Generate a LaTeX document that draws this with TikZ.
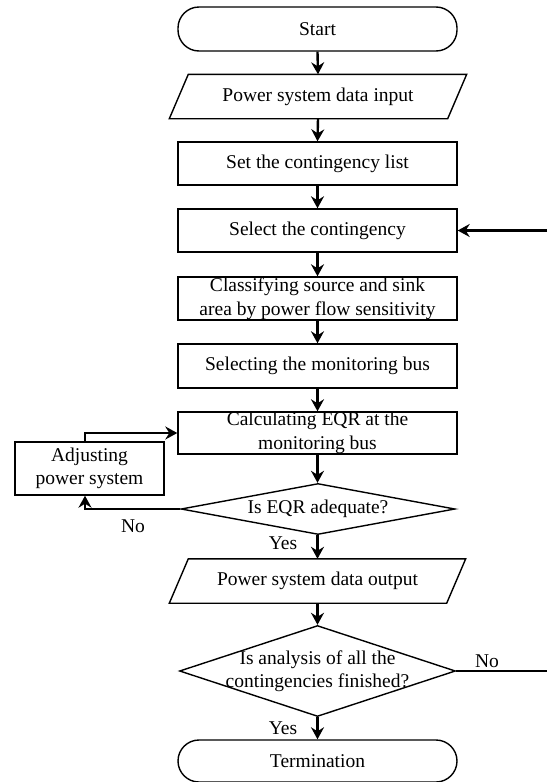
\documentclass[tikz,border=0pt]{standalone}
\usepackage{fontspec}
\setmainfont{Liberation Serif}
\usetikzlibrary{shapes.geometric,arrows.meta}
\newcommand\myfs{\fontsize{19.5}{23.5}\selectfont}
\begin{document}
\begin{tikzpicture}[x=1pt,y=-1pt,
  box/.style={draw,line width=1.4pt,minimum width=279pt,minimum height=43pt,inner sep=0pt,align=center,font=\myfs},
  termbox/.style={box,rounded corners=21pt,minimum height=44pt},
  iobox/.style={rectangle,minimum width=278pt,minimum height=44pt,inner sep=0pt,align=center,font=\myfs},
  decbox/.style={draw,diamond,line width=1.4pt,inner sep=0pt,aspect=5},
  txt/.style={inner sep=0pt,align=center,font=\myfs},
  arr/.style={line width=2.4pt,-{Stealth[length=12pt,width=13pt,inset=4pt]}},
  plain/.style={line width=2.4pt},
  edge/.style={line width=1.4pt,line join=miter}
]
\useasboundingbox (0,0) rectangle (547,782);

\node[termbox] (start) at (317.5,29) {Start};
\node[iobox] (in) at (318,96.5) {Power system data input};
\draw[edge] ([xshift=-9.5pt]in.south west) -- ([xshift=9.5pt]in.north west) -- ([xshift=9.5pt]in.north east) -- ([xshift=-9.5pt]in.south east) -- cycle;
\node[box] (set) at (317.5,163.5) {Set the contingency list};
\node[box] (sel) at (317.5,230.5) {Select the contingency};
\node[box] (cls) at (317.5,298.5) {Classifying source and sink\\area by power flow sensitivity};
\node[box,minimum height=44pt] (bus) at (317.5,366) {Selecting the monitoring bus};
\node[box,minimum height=42pt] (calc) at (317.5,433) {Calculating EQR at the\\monitoring bus};
\node[box,minimum width=149pt,minimum height=53pt] (adj) at (89.5,468.5) {Adjusting\\power system};

\node[decbox,minimum width=274pt,minimum height=51pt] (d1) at (318,509) {};
\node[txt] (d1t) at (318,509) {Is EQR adequate?};

\node[iobox,minimum width=277pt] (out) at (317.5,581) {Power system data output};
\draw[edge] ([xshift=-9.5pt]out.south west) -- ([xshift=9.5pt]out.north west) -- ([xshift=9.5pt]out.north east) -- ([xshift=-9.5pt]out.south east) -- cycle;

\node[decbox,minimum width=276pt,minimum height=91pt] (d2) at (317.5,671) {};
\node[txt] (d2t) at (317.5,671) {Is analysis of all the\\contingencies finished?};

\node[termbox,minimum height=42pt] (term) at (317.5,761) {Termination};

\node[txt] (no1) at (133,526) {No};
\node[txt] (yes1) at (283,543) {Yes};
\node[txt] (no2) at (487,661) {No};
\node[txt] (yes2) at (283,728) {Yes};

\coordinate (rin) at (547,230.5);
\coordinate (rout) at (547,671);

\draw[arr] (start.south) -- (in.north);
\draw[arr] (in.south) -- (set.north);
\draw[arr] (set.south) -- (sel.north);
\draw[arr] (sel.south) -- (cls.north);
\draw[arr] (cls.south) -- (bus.north);
\draw[arr] (bus.south) -- (calc.north);
\draw[arr] (calc.south) -- (calc.south |- d1.north);
\draw[arr] (d1.south -| out.north) -- (out.north);
\draw[arr] (out.south) -- (d2.north);
\draw[arr] (d2.south) -- (term.north);

\draw[arr] (d1.west) -| ([xshift=-4.5pt]adj.south);
\draw[arr] ([xshift=-4.5pt]adj.north) |- (calc.west);
\draw[arr] (rin) -- (sel.east);
\draw[plain] (d2.east) -- (rout);
\end{tikzpicture}
\end{document}
